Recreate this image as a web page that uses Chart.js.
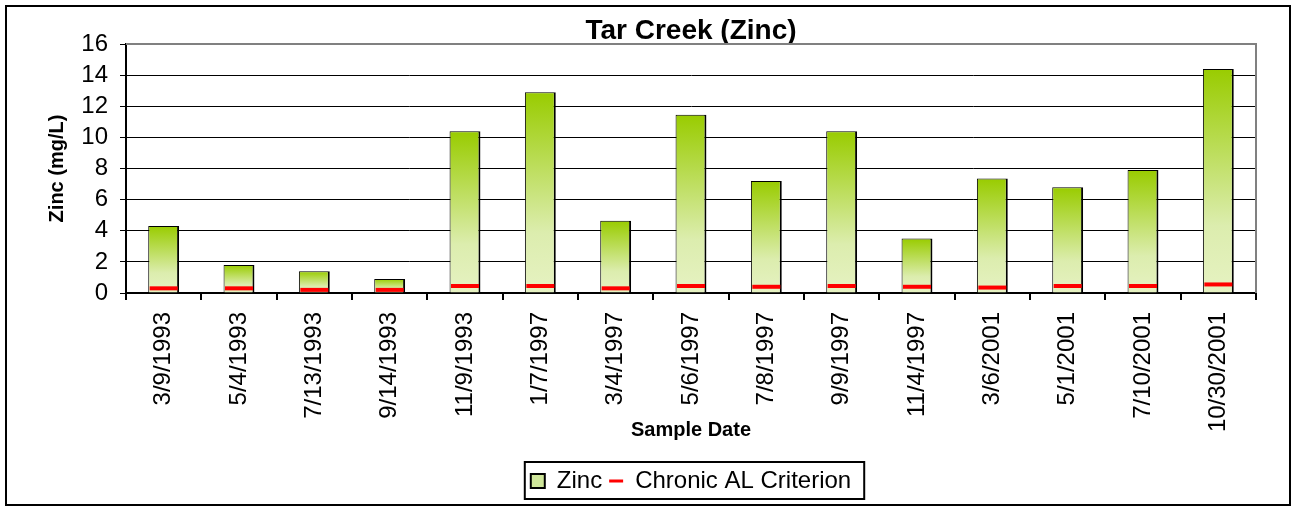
<!DOCTYPE html>
<html>
<head>
<meta charset="utf-8">
<script src="https://cdn.jsdelivr.net/npm/chart.js@4"></script>
<style>
  body { margin: 0; background: #fff; }
  #wrap { position: absolute; left: 0; top: 0; width: 1293px; height: 510px; }
</style>
</head>
<body>
<div id="wrap"><canvas id="myChart" width="1293" height="510"></canvas></div>
<script>
const sampleDates = ["3/9/1993", "5/4/1993", "7/13/1993", "9/14/1993", "11/9/1993", "1/7/1997", "3/4/1997",
  "5/6/1997", "7/8/1997", "9/9/1997", "11/4/1997", "3/6/2001", "5/1/2001", "7/10/2001", "10/30/2001"];
const zinc = [4.3, 1.8, 1.4, 0.9, 10.4, 12.9, 4.65, 11.45, 7.2, 10.4, 3.5, 7.35, 6.8, 7.9, 14.4];
const chronicAL = [0.3, 0.3, 0.2, 0.2, 0.45, 0.45, 0.3, 0.45, 0.4, 0.45, 0.4, 0.35, 0.45, 0.45, 0.55];
const yTicks = [0, 2, 4, 6, 8, 10, 12, 14, 16];

const font = "Arial, 'Liberation Sans', sans-serif";

// degradado verde por barra (oscuro arriba, claro abajo)
function barFill(c) {
  const chart = c.chart;
  const y = chart.scales && chart.scales.y;
  if (!y || c.parsed === undefined) return "#c8e28a";
  const top = y.getPixelForValue(c.parsed.y);
  const base = y.getPixelForValue(0);
  if (!isFinite(top) || !isFinite(base) || base - top < 1) return "#c8e28a";
  const g = chart.ctx.createLinearGradient(0, top, 0, base);
  g.addColorStop(0, "#99cc00");
  g.addColorStop(0.7, "#dcedae");
  g.addColorStop(1, "#e6f2c2");
  return g;
}

// marco exterior, borde gris del area de trazado y caja de la leyenda
const framePlugin = {
  id: "frame",
  afterDraw(chart) {
    const ctx = chart.ctx;
    const a = chart.chartArea;
    ctx.save();
    ctx.strokeStyle = "#808080";
    ctx.lineWidth = 2;
    ctx.beginPath();
    ctx.moveTo(a.left, a.top);
    ctx.lineTo(a.right, a.top);
    ctx.lineTo(a.right, a.bottom);
    ctx.stroke();
    ctx.strokeStyle = "#000";
    ctx.lineWidth = 2;
    ctx.strokeRect(6, 6, 1284, 499);
    const hb = chart.legend.legendHitBoxes;
    if (hb && hb.length) {
      const last = hb[hb.length - 1];
      const x0 = hb[0].left - 6;
      const x1 = last.left + last.width + 13;
      const y0 = hb[0].top - 7;
      const y1 = hb[0].top + hb[0].height + 6;
      ctx.strokeRect(x0, y0, x1 - x0, y1 - y0);
    }
    ctx.restore();
  }
};

const ctx = document.getElementById("myChart");
new Chart(ctx, {
  type: "bar",
  data: {
    labels: sampleDates,
    datasets: [
      {
        type: "line",
        label: "Chronic AL Criterion",
        data: chronicAL,
        showLine: false,
        pointStyle: "line",
        pointRadius: 14,
        pointHoverRadius: 14,
        borderColor: "#ff0000",
        backgroundColor: "#ff0000",
        pointBorderWidth: 4,
        order: 0,
      },
      {
        label: "Zinc",
        data: zinc,
        backgroundColor: barFill,
        borderColor: "#000",
        borderWidth: { top: 1, left: 1, right: 2, bottom: 0 },
        borderSkipped: "bottom",
        barPercentage: 0.41,
        categoryPercentage: 1,
        order: 1,
      },
    ],
  },
  options: {
    responsive: false,
    animation: false,
    devicePixelRatio: 1,
    layout: { padding: { left: 35, right: 37, top: 0, bottom: 7 } },
    plugins: {
      title: {
        display: true,
        fullSize: false,
        text: "Tar Creek (Zinc)",
        color: "#000",
        font: { family: font, size: 28, weight: "bold" },
        padding: { top: 14, bottom: -3.6 },
      },
      legend: {
        position: "bottom",
        fullSize: false,
        labels: {
          color: "#000",
          font: { family: font, size: 24 },
          boxWidth: 14,
          boxHeight: 14,
          pointStyleWidth: 14,
          padding: 7,
          usePointStyle: true,
          generateLabels() {
            return [
              { text: "Zinc", fillStyle: "#cfe69a", strokeStyle: "#000", lineWidth: 2, pointStyle: "rect", datasetIndex: 1 },
              { text: "Chronic AL Criterion", fillStyle: "#ff0000", strokeStyle: "#ff0000", lineWidth: 3, pointStyle: "line", datasetIndex: 0 },
            ];
          },
        },
      },
      tooltip: { enabled: false },
    },
    scales: {
      x: {
        afterFit(axis) {
          axis.height = 169;
        },
        ticks: {
          color: "#000",
          font: { family: font, size: 24 },
          minRotation: 90,
          maxRotation: 90,
          padding: 12,
          autoSkip: false,
        },
        grid: { drawOnChartArea: false, drawTicks: true, tickLength: 7, color: "#000", lineWidth: 2, offset: true },
        border: { color: "#000", width: 2 },
        title: {
          display: true,
          text: "Sample Date",
          color: "#000",
          font: { family: font, size: 20, weight: "bold" },
          padding: { top: 0, bottom: 20 },
        },
      },
      y: {
        min: 0,
        max: 16,
        afterFit(axis) {
          axis.width = 91;
        },
        afterBuildTicks(axis) {
          axis.ticks = yTicks.map((v) => ({ value: v }));
        },
        ticks: {
          color: "#000",
          font: { family: font, size: 24 },
          padding: 12,
          autoSkip: false,
        },
        grid: {
          color: (c) => (c.tick && c.tick.value === 16 ? "#808080" : "#000"),
          lineWidth: 1,
          tickLength: 6,
          tickColor: "#000",
        },
        border: { color: "#000", width: 2 },
        title: {
          display: true,
          text: "Zinc (mg/L)",
          color: "#000",
          font: { family: font, size: 20, weight: "bold" },
          padding: { top: 10, bottom: 0 },
        },
      },
    },
  },
  plugins: [framePlugin],
});
</script>
</body>
</html>
